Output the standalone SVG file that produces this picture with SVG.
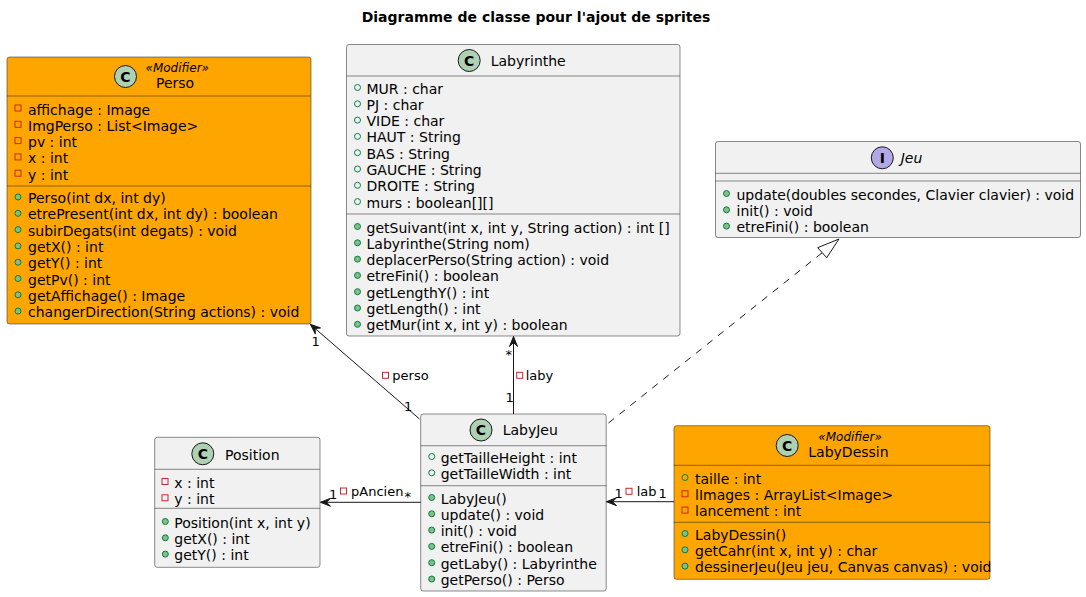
<svg xmlns="http://www.w3.org/2000/svg" width="1086" height="597" viewBox="0 0 1086 597">
<style>
text{font-family:"DejaVu Sans","Liberation Sans",sans-serif;fill:#000}
.t{font-size:14px}
.title{font-size:14px;font-weight:bold}
.st{font-size:12px;font-style:italic}
.lbl{font-size:13px}
.box{fill:#F1F1F1;stroke:#181818;stroke-width:0.5}
.mod{fill:#FFA500;stroke:#181818;stroke-width:0.5}
.sep{stroke:#181818;stroke-width:0.5}
.cc{fill:#ADD1B2;stroke:#181818;stroke-width:1}
.ci{fill:#B4A7E5;stroke:#181818;stroke-width:1}
.cl{font-size:14px;font-weight:bold;text-anchor:middle}
.pf{fill:none;stroke:#038048;stroke-width:1}
.pm{fill:#84BE84;stroke:#038048;stroke-width:1}
.pr{fill:none;stroke:#C82930;stroke-width:1}
.ln{stroke:#181818;stroke-width:1;fill:none}
.dash{stroke-dasharray:7,7}
</style>
<defs>
<marker id="arr" markerUnits="userSpaceOnUse" markerWidth="14" markerHeight="12" viewBox="-12 -6 14 12" refX="0" refY="0" orient="auto" overflow="visible">
<path d="M0,0 L-10,-4 L-6,0 L-10,4 Z" fill="#181818" stroke="#181818" stroke-width="1"/>
</marker>
</defs>

<text class="title" x="536" y="22" text-anchor="middle">Diagramme de classe pour l'ajout de sprites</text>

<g id="Perso">
<rect class="mod" x="7" y="57" width="304" height="267" rx="2.5"/>
<circle class="cc" cx="125.5" cy="76.5" r="11"/>
<text class="cl" x="125.5" y="81.5">C</text>
<text class="st" x="145.5" y="71.5">«Modifier»</text>
<text class="t" x="156" y="88">Perso</text>
<line class="sep" x1="7" y1="96" x2="311" y2="96"/>
<rect class="pr" x="15" y="105" width="6" height="6"/><text class="t" x="28" y="114.5">affichage : Image</text>
<rect class="pr" x="15" y="121.3" width="6" height="6"/><text class="t" x="28" y="130.8">ImgPerso : List&lt;Image&gt;</text>
<rect class="pr" x="15" y="137.6" width="6" height="6"/><text class="t" x="28" y="147.1">pv : int</text>
<rect class="pr" x="15" y="153.9" width="6" height="6"/><text class="t" x="28" y="163.4">x : int</text>
<rect class="pr" x="15" y="170.2" width="6" height="6"/><text class="t" x="28" y="179.7">y : int</text>
<line class="sep" x1="7" y1="186" x2="311" y2="186"/>
<circle class="pm" cx="18" cy="197" r="3"/><text class="t" x="28" y="203">Perso(int dx, int dy)</text>
<circle class="pm" cx="18" cy="213.3" r="3"/><text class="t" x="28" y="219.3">etrePresent(int dx, int dy) : boolean</text>
<circle class="pm" cx="18" cy="229.6" r="3"/><text class="t" x="28" y="235.6">subirDegats(int degats) : void</text>
<circle class="pm" cx="18" cy="245.9" r="3"/><text class="t" x="28" y="251.9">getX() : int</text>
<circle class="pm" cx="18" cy="262.2" r="3"/><text class="t" x="28" y="268.2">getY() : int</text>
<circle class="pm" cx="18" cy="278.5" r="3"/><text class="t" x="28" y="284.5">getPv() : int</text>
<circle class="pm" cx="18" cy="294.8" r="3"/><text class="t" x="28" y="300.8">getAffichage() : Image</text>
<circle class="pm" cx="18" cy="311.1" r="3"/><text class="t" x="28" y="317.1">changerDirection(String actions) : void</text>
</g>

<g id="Labyrinthe">
<rect class="box" x="346.5" y="44.5" width="333.5" height="291.5" rx="2.5"/>
<circle class="cc" cx="469.2" cy="60.5" r="11"/>
<text class="cl" x="469.2" y="65.5">C</text>
<text class="t" x="490.7" y="65.5">Labyrinthe</text>
<line class="sep" x1="346.5" y1="76" x2="680" y2="76"/>
<circle class="pf" cx="357.5" cy="87.5" r="3"/><text class="t" x="366.5" y="93.5">MUR : char</text>
<circle class="pf" cx="357.5" cy="103.8" r="3"/><text class="t" x="366.5" y="109.8">PJ : char</text>
<circle class="pf" cx="357.5" cy="120.1" r="3"/><text class="t" x="366.5" y="126.1">VIDE : char</text>
<circle class="pf" cx="357.5" cy="136.4" r="3"/><text class="t" x="366.5" y="142.4">HAUT : String</text>
<circle class="pf" cx="357.5" cy="152.7" r="3"/><text class="t" x="366.5" y="158.7">BAS : String</text>
<circle class="pf" cx="357.5" cy="169" r="3"/><text class="t" x="366.5" y="175">GAUCHE : String</text>
<circle class="pf" cx="357.5" cy="185.3" r="3"/><text class="t" x="366.5" y="191.3">DROITE : String</text>
<circle class="pf" cx="357.5" cy="201.6" r="3"/><text class="t" x="366.5" y="207.6">murs : boolean[][]</text>
<line class="sep" x1="346.5" y1="214" x2="680" y2="214"/>
<circle class="pm" cx="357.5" cy="226.5" r="3"/><text class="t" x="366.5" y="232.5">getSuivant(int x, int y, String action) : int []</text>
<circle class="pm" cx="357.5" cy="242.8" r="3"/><text class="t" x="366.5" y="248.8">Labyrinthe(String nom)</text>
<circle class="pm" cx="357.5" cy="259.1" r="3"/><text class="t" x="366.5" y="265.1">deplacerPerso(String action) : void</text>
<circle class="pm" cx="357.5" cy="275.4" r="3"/><text class="t" x="366.5" y="281.4">etreFini() : boolean</text>
<circle class="pm" cx="357.5" cy="291.7" r="3"/><text class="t" x="366.5" y="297.7">getLengthY() : int</text>
<circle class="pm" cx="357.5" cy="308" r="3"/><text class="t" x="366.5" y="314">getLength() : int</text>
<circle class="pm" cx="357.5" cy="324.3" r="3"/><text class="t" x="366.5" y="330.3">getMur(int x, int y) : boolean</text>
</g>

<g id="Jeu">
<rect class="box" x="715.5" y="141.5" width="365" height="96" rx="2.5"/>
<circle class="ci" cx="882.3" cy="157.8" r="11"/>
<text class="cl" x="882.3" y="162.8">I</text>
<text class="t" x="900.7" y="163" font-style="italic">Jeu</text>
<line class="sep" x1="715.5" y1="173.3" x2="1080.5" y2="173.3"/>
<line class="sep" x1="715.5" y1="181" x2="1080.5" y2="181"/>
<circle class="pm" cx="726.5" cy="193.5" r="3"/><text class="t" x="736.5" y="199.5">update(doubles secondes, Clavier clavier) : void</text>
<circle class="pm" cx="726.5" cy="209.8" r="3"/><text class="t" x="736.5" y="215.8">init() : void</text>
<circle class="pm" cx="726.5" cy="226.1" r="3"/><text class="t" x="736.5" y="232.1">etreFini() : boolean</text>
</g>

<g id="LabyJeu">
<rect class="box" x="420.7" y="414" width="185.5" height="177" rx="2.5"/>
<circle class="cc" cx="481" cy="430" r="11"/>
<text class="cl" x="481" y="435">C</text>
<text class="t" x="502.7" y="435">LabyJeu</text>
<line class="sep" x1="420.7" y1="445.7" x2="606.2" y2="445.7"/>
<circle class="pf" cx="431.7" cy="456.5" r="3"/><text class="t" x="440.7" y="462.5">getTailleHeight : int</text>
<circle class="pf" cx="431.7" cy="472.8" r="3"/><text class="t" x="440.7" y="478.8">getTailleWidth : int</text>
<line class="sep" x1="420.7" y1="485.7" x2="606.2" y2="485.7"/>
<circle class="pm" cx="431.7" cy="497.5" r="3"/><text class="t" x="440.7" y="503.5">LabyJeu()</text>
<circle class="pm" cx="431.7" cy="513.8" r="3"/><text class="t" x="440.7" y="519.8">update() : void</text>
<circle class="pm" cx="431.7" cy="530.1" r="3"/><text class="t" x="440.7" y="536.1">init() : void</text>
<circle class="pm" cx="431.7" cy="546.4" r="3"/><text class="t" x="440.7" y="552.4">etreFini() : boolean</text>
<circle class="pm" cx="431.7" cy="562.7" r="3"/><text class="t" x="440.7" y="568.7">getLaby() : Labyrinthe</text>
<circle class="pm" cx="431.7" cy="579" r="3"/><text class="t" x="440.7" y="585">getPerso() : Perso</text>
</g>

<g id="LabyDessin">
<rect class="mod" x="674" y="425.7" width="316" height="153.6" rx="2.5"/>
<circle class="cc" cx="787.2" cy="445.5" r="11"/>
<text class="cl" x="787.2" y="450.5">C</text>
<text class="st" x="818.3" y="440.5">«Modifier»</text>
<text class="t" x="808.3" y="456.5">LabyDessin</text>
<line class="sep" x1="674" y1="465.3" x2="990" y2="465.3"/>
<circle class="pf" cx="685" cy="477.5" r="3"/><text class="t" x="695" y="483.5">taille : int</text>
<rect class="pr" x="682" y="490.8" width="6" height="6"/><text class="t" x="695" y="499.8">lImages : ArrayList&lt;Image&gt;</text>
<rect class="pr" x="682" y="507.1" width="6" height="6"/><text class="t" x="695" y="516.1">lancement : int</text>
<line class="sep" x1="674" y1="522.3" x2="990" y2="522.3"/>
<circle class="pm" cx="685" cy="533.5" r="3"/><text class="t" x="695" y="539.5">LabyDessin()</text>
<circle class="pm" cx="685" cy="549.8" r="3"/><text class="t" x="695" y="555.8">getCahr(int x, int y) : char</text>
<circle class="pm" cx="685" cy="566.1" r="3"/><text class="t" x="695" y="572.1">dessinerJeu(Jeu jeu, Canvas canvas) : void</text>
</g>

<g id="Position">
<rect class="box" x="154.7" y="437.3" width="165.3" height="130" rx="2.5"/>
<circle class="cc" cx="202.8" cy="453.8" r="11"/>
<text class="cl" x="202.8" y="458.8">C</text>
<text class="t" x="225" y="459.5">Position</text>
<line class="sep" x1="154.7" y1="469.3" x2="320" y2="469.3"/>
<rect class="pr" x="162" y="478.5" width="6" height="6"/><text class="t" x="174.3" y="487.5">x : int</text>
<rect class="pr" x="162" y="494.8" width="6" height="6"/><text class="t" x="174.3" y="503.8">y : int</text>
<line class="sep" x1="154.7" y1="508.3" x2="320" y2="508.3"/>
<circle class="pm" cx="165.3" cy="521.5" r="3"/><text class="t" x="174.3" y="527.5">Position(int x, int y)</text>
<circle class="pm" cx="165.3" cy="537.8" r="3"/><text class="t" x="174.3" y="543.8">getX() : int</text>
<circle class="pm" cx="165.3" cy="554.1" r="3"/><text class="t" x="174.3" y="560.1">getY() : int</text>
</g>

<g id="connectors">
<line class="ln" x1="419.5" y1="419" x2="310.5" y2="324.5" marker-end="url(#arr)"/>
<text class="lbl" x="311.5" y="345.5">1</text>
<text class="lbl" x="404" y="411">1</text>
<rect class="pr" x="382.5" y="372.3" width="6" height="6"/>
<text class="lbl" x="392.3" y="380">perso</text>

<line class="ln" x1="513.5" y1="414" x2="513.5" y2="336.5" marker-end="url(#arr)"/>
<text class="lbl" x="505.5" y="358.5">*</text>
<text class="lbl" x="505.5" y="401.7">1</text>
<rect class="pr" x="516.7" y="372.3" width="6" height="6"/>
<text class="lbl" x="525.7" y="380">laby</text>

<line class="ln dash" x1="608.5" y1="423" x2="822.2" y2="252.7"/>
<polygon points="839,239 817.7,247.7 826.7,257.7" fill="#FFFFFF" stroke="#181818" stroke-width="1"/>

<line class="ln" x1="420.7" y1="502.3" x2="320.5" y2="502.3" marker-end="url(#arr)"/>
<text class="lbl" x="329" y="498.5">1</text>
<rect class="pr" x="340.5" y="488" width="6" height="6"/>
<text class="lbl" x="351" y="496">pAncien</text>
<text class="lbl" x="404.5" y="500.5">*</text>

<line class="ln" x1="674" y1="501.7" x2="606.5" y2="501.7" marker-end="url(#arr)"/>
<text class="lbl" x="614.5" y="498">1</text>
<rect class="pr" x="626" y="488.3" width="6" height="6"/>
<text class="lbl" x="636.7" y="495.5">lab</text>
<text class="lbl" x="658.5" y="498">1</text>
</g>
</svg>
